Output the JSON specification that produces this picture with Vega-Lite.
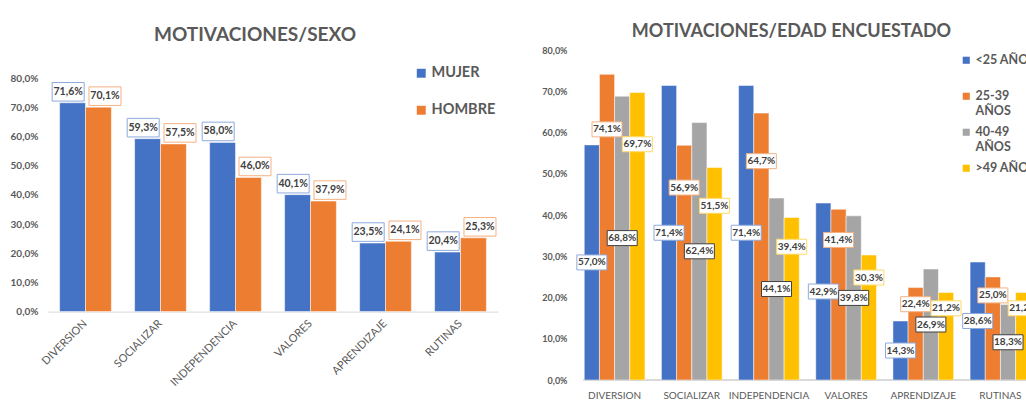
{
  "$schema": "https://vega.github.io/schema/vega-lite/v6.json",
  "background": "white",
  "padding": {"left": 10, "top": 23, "right": 0, "bottom": 0},
  "bounds": "flush",
  "spacing": 78,
  "resolve": {
    "scale": {"x": "independent", "y": "independent", "xOffset": "independent", "color": "independent", "stroke": "independent"},
    "legend": {"color": "independent", "stroke": "independent"}
  },
  "config": {
    "locale": {"number": {"decimal": ",", "thousands": ".", "grouping": [3], "currency": ["", " €"]}},
    "font": "Lato",
    "view": {"stroke": null},
    "axis": {"labelColor": "#595959", "labelFont": "Lato", "grid": false, "ticks": false, "domain": false, "title": null}
  },
  "hconcat": [
    {
      "width": 450,
      "height": 261.6,
      "title": {"text": "MOTIVACIONES/SEXO", "fontSize": 19, "fontWeight": "bold", "color": "#595959", "font": "Lato", "anchor": "middle", "dx": -18, "offset": 5},
      "data": {"values": [
        {"motivo": "DIVERSION", "sexo": "MUJER", "valor": 0.716},
        {"motivo": "DIVERSION", "sexo": "HOMBRE", "valor": 0.701},
        {"motivo": "SOCIALIZAR", "sexo": "MUJER", "valor": 0.593},
        {"motivo": "SOCIALIZAR", "sexo": "HOMBRE", "valor": 0.575},
        {"motivo": "INDEPENDENCIA", "sexo": "MUJER", "valor": 0.580},
        {"motivo": "INDEPENDENCIA", "sexo": "HOMBRE", "valor": 0.460},
        {"motivo": "VALORES", "sexo": "MUJER", "valor": 0.401},
        {"motivo": "VALORES", "sexo": "HOMBRE", "valor": 0.379},
        {"motivo": "APRENDIZAJE", "sexo": "MUJER", "valor": 0.235},
        {"motivo": "APRENDIZAJE", "sexo": "HOMBRE", "valor": 0.241},
        {"motivo": "RUTINAS", "sexo": "MUJER", "valor": 0.204},
        {"motivo": "RUTINAS", "sexo": "HOMBRE", "valor": 0.253}
      ]},
      "encoding": {
        "x": {"field": "motivo", "type": "nominal", "sort": null,
          "scale": {"paddingInner": 0.31, "paddingOuter": 0.155},
          "axis": {"labelAngle": -45, "labelAlign": "right", "labelBaseline": "middle", "labelFontSize": 11, "labelPadding": 10, "domain": true, "domainColor": "#D9D9D9", "domainWidth": 1}},
        "y": {"field": "valor", "type": "quantitative",
          "scale": {"domain": [0, 0.897], "nice": false},
          "axis": {"values": [0, 0.1, 0.2, 0.3, 0.4, 0.5, 0.6, 0.7, 0.8], "format": ".1%", "labelFontSize": 10, "labelFontWeight": "bold", "labelPadding": 10}}
      },
      "resolve": {"scale": {"xOffset": "independent"}},
      "layer": [
        {"mark": {"type": "bar", "stroke": "white", "strokeWidth": 0.5},
          "encoding": {
            "xOffset": {"field": "sexo", "type": "nominal", "sort": ["MUJER", "HOMBRE"]},
            "color": {"field": "sexo", "type": "nominal",
            "scale": {"domain": ["MUJER", "HOMBRE"], "range": ["#4472C4", "#ED7D31"]},
            "legend": {"orient": "none", "legendX": 366, "legendY": 16, "title": null, "symbolType": "square", "symbolSize": 80, "symbolStrokeWidth": 0, "labelFontSize": 14.5, "labelFontWeight": "bold", "labelColor": "#595959", "labelFont": "Lato", "rowPadding": 22, "labelOffset": 3}}}},
        {
          "encoding": {
            "xOffset": {"field": "sexo", "type": "nominal", "sort": ["MUJER", "HOMBRE"], "scale": {"domain": ["MUJER", "HOMBRE"], "range": [-9.85, 63.75]}}
          },
          "layer": [
            {"mark": {"type": "point", "shape": "M-1,-0.58H1V0.58H-1Z", "size": 1024, "fill": "white", "opacity": 1, "strokeWidth": 1, "yOffset": -11},
              "encoding": {"stroke": {"field": "sexo", "type": "nominal", "scale": {"domain": ["MUJER", "HOMBRE"], "range": ["#8FAADC", "#F4B183"]}, "legend": null}}},
            {"mark": {"type": "text", "yOffset": -11, "fontSize": 10.5, "fontWeight": "bold", "color": "#404040", "baseline": "middle"},
              "encoding": {"text": {"field": "valor", "type": "quantitative", "format": ".1%"}}}
          ]
        }
      ]
    },
    {
      "width": 451,
      "height": 330,
      "title": {"text": "MOTIVACIONES/EDAD ENCUESTADO", "fontSize": 18, "fontWeight": "bold", "color": "#595959", "font": "Lato", "anchor": "middle", "dx": -10, "offset": 5},
      "data": {"values": [
        {"motivo": "DIVERSION", "edad": "<25 AÑOS", "valor": 0.570},
        {"motivo": "DIVERSION", "edad": "25-39 AÑOS", "valor": 0.741},
        {"motivo": "DIVERSION", "edad": "40-49 AÑOS", "valor": 0.688},
        {"motivo": "DIVERSION", "edad": ">49 AÑOS", "valor": 0.697},
        {"motivo": "SOCIALIZAR", "edad": "<25 AÑOS", "valor": 0.714},
        {"motivo": "SOCIALIZAR", "edad": "25-39 AÑOS", "valor": 0.569},
        {"motivo": "SOCIALIZAR", "edad": "40-49 AÑOS", "valor": 0.624},
        {"motivo": "SOCIALIZAR", "edad": ">49 AÑOS", "valor": 0.515},
        {"motivo": "INDEPENDENCIA", "edad": "<25 AÑOS", "valor": 0.714},
        {"motivo": "INDEPENDENCIA", "edad": "25-39 AÑOS", "valor": 0.647},
        {"motivo": "INDEPENDENCIA", "edad": "40-49 AÑOS", "valor": 0.441},
        {"motivo": "INDEPENDENCIA", "edad": ">49 AÑOS", "valor": 0.394},
        {"motivo": "VALORES", "edad": "<25 AÑOS", "valor": 0.429},
        {"motivo": "VALORES", "edad": "25-39 AÑOS", "valor": 0.414},
        {"motivo": "VALORES", "edad": "40-49 AÑOS", "valor": 0.398},
        {"motivo": "VALORES", "edad": ">49 AÑOS", "valor": 0.303},
        {"motivo": "APRENDIZAJE", "edad": "<25 AÑOS", "valor": 0.143},
        {"motivo": "APRENDIZAJE", "edad": "25-39 AÑOS", "valor": 0.224},
        {"motivo": "APRENDIZAJE", "edad": "40-49 AÑOS", "valor": 0.269},
        {"motivo": "APRENDIZAJE", "edad": ">49 AÑOS", "valor": 0.212},
        {"motivo": "RUTINAS", "edad": "<25 AÑOS", "valor": 0.286},
        {"motivo": "RUTINAS", "edad": "25-39 AÑOS", "valor": 0.250},
        {"motivo": "RUTINAS", "edad": "40-49 AÑOS", "valor": 0.183},
        {"motivo": "RUTINAS", "edad": ">49 AÑOS", "valor": 0.212}
      ]},
      "encoding": {
        "x": {"field": "motivo", "type": "nominal", "sort": null,
          "scale": {"range": [0, 463], "paddingInner": 0.214, "paddingOuter": 0.107},
          "axis": {"labelAngle": 0, "labelFontSize": 10, "labelPadding": 10}},
        "xOffset": {"field": "edad", "type": "nominal", "sort": ["<25 AÑOS", "25-39 AÑOS", "40-49 AÑOS", ">49 AÑOS"], "scale": {"domain": ["<25 AÑOS", "25-39 AÑOS", "40-49 AÑOS", ">49 AÑOS"], "range": [0, 60.7]}}
      },
      "resolve": {"scale": {"y": "independent"}},
      "layer": [
        {
          "encoding": {
            "y": {"field": "valor", "type": "quantitative",
              "scale": {"domain": [0, 0.8], "nice": false},
              "axis": {"values": [0, 0.1, 0.2, 0.3, 0.4, 0.5, 0.6, 0.7, 0.8], "format": ".1%", "labelFontSize": 9, "labelFontWeight": "bold", "labelPadding": 9}}
          },
          "layer": [
            {"mark": {"type": "rule", "color": "#D9D9D9", "strokeWidth": 1}, "encoding": {"y": {"datum": 0}, "x": {"value": 0}, "x2": {"value": 451}}},
            {"mark": {"type": "bar", "clip": true, "stroke": "white", "strokeWidth": 0.5},
              "encoding": {"color": {"field": "edad", "type": "nominal",
                "scale": {"domain": ["<25 AÑOS", "25-39 AÑOS", "40-49 AÑOS", ">49 AÑOS"], "range": ["#4472C4", "#ED7D31", "#A5A5A5", "#FFC000"]},
                "legend": {"orient": "none", "legendX": 384, "legendY": 4, "title": null, "symbolType": "square", "symbolSize": 50, "symbolStrokeWidth": 0, "labelFontSize": 12.5, "labelFontWeight": "bold", "labelColor": "#595959", "labelFont": "Lato", "labelLineHeight": 18, "rowPadding": 8, "labelOffset": 3, "labelLimit": 200,
                  "labelExpr": "datum.label == '25-39 AÑOS' || datum.label == '40-49 AÑOS' ? split(datum.label, ' ') : [datum.label, ' ']"}}}}
          ]
        },
        {
          "transform": [{"filter": {"field": "edad", "oneOf": ["<25 AÑOS", "40-49 AÑOS"]}}],
          "encoding": {
            "y": {"field": "valor", "type": "quantitative", "scale": {"domain": [0, 1.6], "nice": false}, "axis": null}
          },
          "layer": [
            {"mark": {"type": "point", "clip": true, "shape": "M-1,-0.5H1V0.5H-1Z", "size": 900, "fill": "white", "opacity": 1, "strokeWidth": 1},
              "encoding": {"stroke": {"field": "edad", "type": "nominal", "scale": {"domain": ["<25 AÑOS", "25-39 AÑOS", "40-49 AÑOS", ">49 AÑOS"], "range": ["#8FAADC", "#F4B183", "#404040", "#FFD966"]}, "legend": null}}},
            {"mark": {"type": "text", "clip": true, "fontSize": 10, "fontWeight": "bold", "color": "#404040", "baseline": "middle"},
              "encoding": {"text": {"field": "valor", "type": "quantitative", "format": ".1%"}}}
          ]
        },
        {
          "transform": [{"filter": {"field": "edad", "oneOf": ["25-39 AÑOS", ">49 AÑOS"]}}],
          "encoding": {
            "y": {"field": "valor", "type": "quantitative", "scale": {"domain": [0, 0.9756], "nice": false}, "axis": null}
          },
          "layer": [
            {"mark": {"type": "point", "clip": true, "shape": "M-1,-0.5H1V0.5H-1Z", "size": 900, "fill": "white", "opacity": 1, "strokeWidth": 1},
              "encoding": {"stroke": {"field": "edad", "type": "nominal", "scale": {"domain": ["<25 AÑOS", "25-39 AÑOS", "40-49 AÑOS", ">49 AÑOS"], "range": ["#8FAADC", "#F4B183", "#404040", "#FFD966"]}, "legend": null}}},
            {"mark": {"type": "text", "clip": true, "fontSize": 10, "fontWeight": "bold", "color": "#404040", "baseline": "middle"},
              "encoding": {"text": {"field": "valor", "type": "quantitative", "format": ".1%"}}}
          ]
        }
      ]
    }
  ]
}
